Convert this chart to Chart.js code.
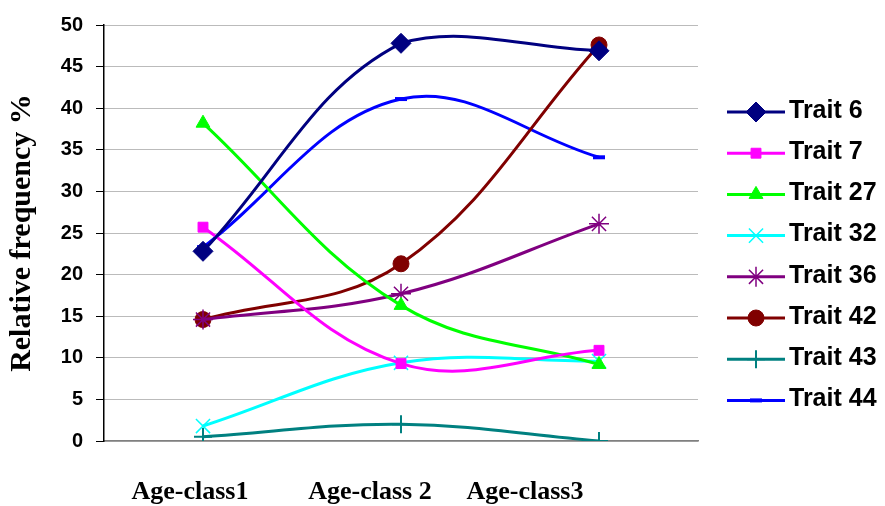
<!DOCTYPE html>
<html>
<head>
  <title>Relative frequency by age-class</title>
  <script src="https://cdn.jsdelivr.net/npm/chart.js"></script>
  <style>
    body { margin: 0; background: #fff; }
    #wrap { width: 885px; height: 506px; }
  </style>
</head>
<body>
  <div id="wrap"><canvas id="traitChart" width="885" height="506"></canvas></div>
  <script>
    // categories and series
    var ageClasses = ['Age-class1', 'Age-class 2', 'Age-class3'];
    var yTicks = [0, 5, 10, 15, 20, 25, 30, 35, 40, 45, 50];

    var trait6 = [22.8, 47.8, 46.9];
    var trait7 = [25.7, 9.3, 10.9];
    var trait27 = [38.2, 16.3, 9.2];
    var trait32 = [1.8, 9.4, 9.6];
    var trait36 = [14.6, 17.7, 26.1];
    var trait42 = [14.6, 21.3, 47.6];
    var trait43 = [0.5, 2.0, 0.0];
    var trait44 = [23.3, 41.1, 34.1];

    // x label shift (labels in the original are not centred on points)
    var labelShift = [-13, -31, -74];

    function series(label, data, color, style, radius, bw) {
      return {
        label: label,
        data: data,
        borderColor: color,
        backgroundColor: color,
        borderWidth: 3,
        tension: 0.38,
        pointStyle: style,
        pointRadius: radius,
        pointHoverRadius: radius,
        pointBorderWidth: bw,
        pointBorderColor: color,
        pointBackgroundColor: color
      };
    }

    var datasets = [
      series('Trait 6', trait6, '#000080', 'rectRot', 10, 1),
      series('Trait 7', trait7, '#FF00FF', 'rect', 7, 1),
      series('Trait 27', trait27, '#00FF00', 'triangle', 8, 1),
      series('Trait 32', trait32, '#00FFFF', 'crossRot', 10, 1.5),
      series('Trait 36', trait36, '#800080', 'star', 10, 1.5),
      series('Trait 42', trait42, '#800000', 'circle', 8, 1),
      series('Trait 43', trait43, '#008080', 'cross', 9, 2),
      series('Trait 44', trait44, '#0000FF', 'line', 6, 4)
    ];

    // legend drawn by hand: line sample + marker + text
    var sideLegend = {
      id: 'sideLegend',
      afterDraw: function(chart) {
        var ctx = chart.ctx;
        var x0 = 727, x1 = 785, y0 = 112, step = 41.2;
        chart.data.datasets.forEach(function(ds, i) {
          var y = y0 + i * step;
          ctx.save();
          ctx.strokeStyle = ds.borderColor;
          ctx.lineWidth = 3;
          ctx.beginPath();
          ctx.moveTo(x0, y);
          ctx.lineTo(x1, y);
          ctx.stroke();
          ctx.fillStyle = ds.pointBackgroundColor;
          ctx.strokeStyle = ds.pointBorderColor;
          ctx.lineWidth = ds.pointBorderWidth;
          Chart.helpers.drawPoint(ctx, {
            pointStyle: ds.pointStyle,
            radius: ds.pointRadius,
            rotation: 0,
            borderWidth: ds.pointBorderWidth
          }, (x0 + x1) / 2, y);
          ctx.fillStyle = '#000';
          ctx.font = 'bold 25px "Liberation Sans", Arial, sans-serif';
          ctx.textBaseline = 'middle';
          ctx.textAlign = 'left';
          ctx.fillText(ds.label, 789, y - 1);
          ctx.restore();
        });
      }
    };

    // category labels under the axis
    var ageLabels = {
      id: 'ageLabels',
      afterDraw: function(chart) {
        var ctx = chart.ctx;
        var xs = chart.scales.x;
        ctx.save();
        ctx.fillStyle = '#000';
        ctx.font = 'bold 26px "Liberation Serif", "Times New Roman", serif';
        ctx.textAlign = 'center';
        ctx.textBaseline = 'middle';
        ageClasses.forEach(function(lbl, i) {
          ctx.fillText(lbl, xs.getPixelForValue(i) + labelShift[i], 492);
        });
        ctx.restore();
      }
    };

    var ctx = document.getElementById('traitChart').getContext('2d');
    var chart = new Chart(ctx, {
      type: 'line',
      data: { labels: ageClasses, datasets: datasets },
      options: {
        responsive: false,
        animation: false,
        events: [],
        layout: { padding: { left: 0, right: 187, top: 21, bottom: 0 } },
        plugins: {
          legend: { display: false },
          tooltip: { enabled: false }
        },
        scales: {
          x: {
            offset: true,
            grid: { display: false },
            border: { display: true, color: '#808080', width: 1.5 },
            ticks: { display: false },
            afterFit: function(s) { s.height = 65; }
          },
          y: {
            min: 0,
            max: 50,
            afterBuildTicks: function(s) {
              s.ticks = yTicks.map(function(v) { return { value: v }; });
            },
            grid: {
              color: '#777',
              lineWidth: 1,
              tickLength: 8,
              tickColor: '#000',
              tickBorderDash: []
            },
            border: { display: true, color: '#000', width: 1.5, dash: [1, 1] },
            ticks: {
              color: '#000',
              padding: 13,
              font: { family: '"Liberation Sans", Arial, sans-serif', size: 20, weight: 'bold' }
            },
            title: {
              display: true,
              text: 'Relative frequency %',
              color: '#000',
              padding: { top: 4, bottom: 4 },
              font: { family: '"Liberation Serif", "Times New Roman", serif', size: 30, weight: 'bold' }
            },
            afterFit: function(s) { s.width = 104; }
          }
        }
      },
      plugins: [sideLegend, ageLabels]
    });
  </script>
</body>
</html>
